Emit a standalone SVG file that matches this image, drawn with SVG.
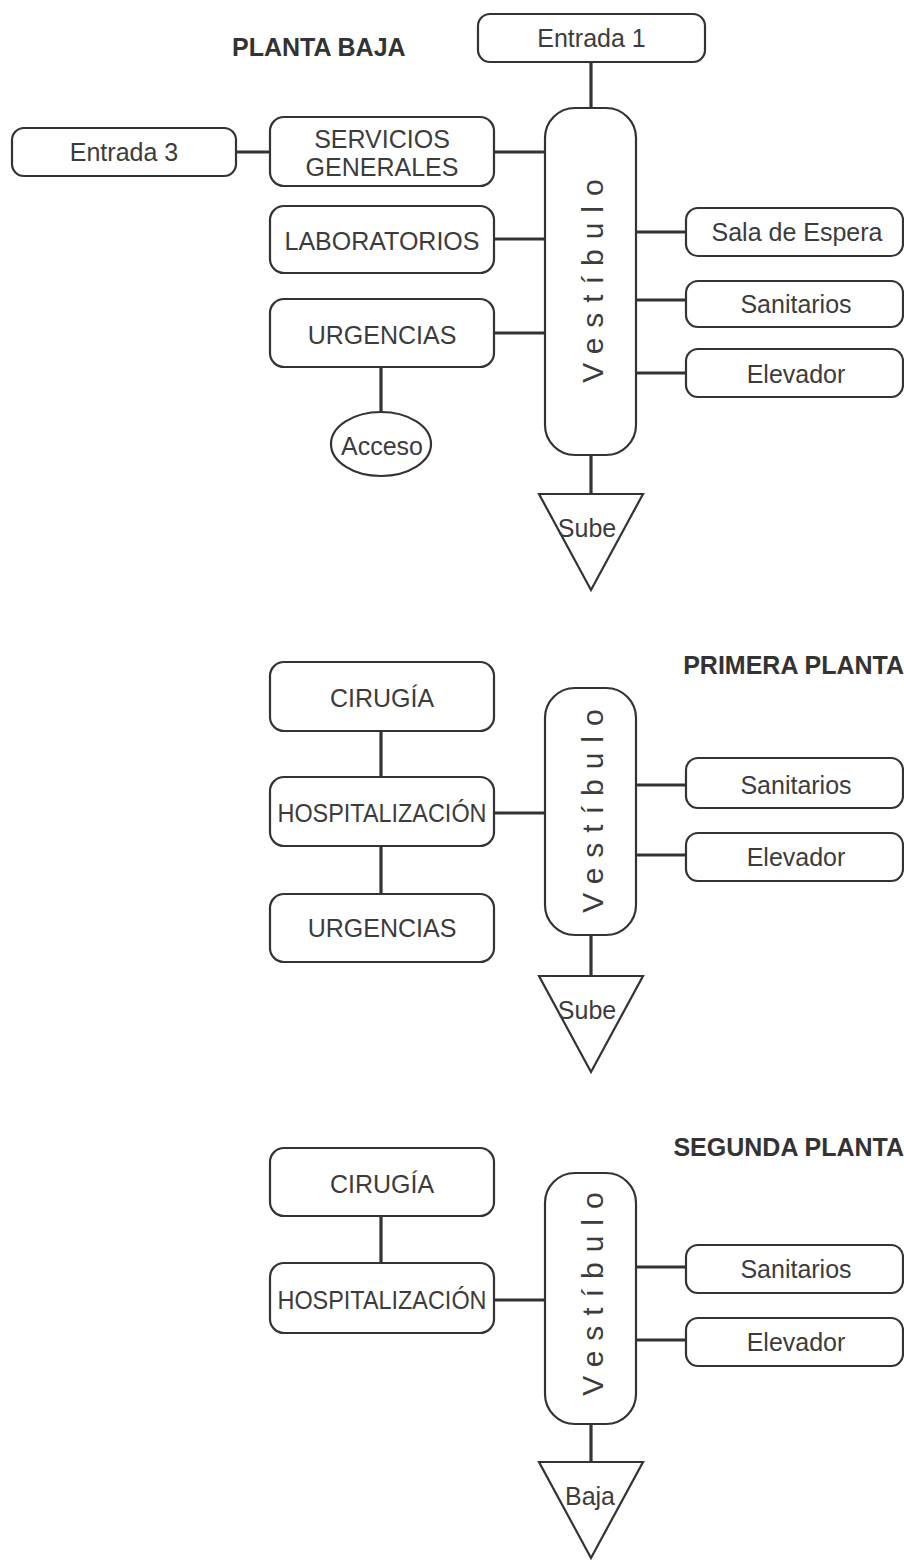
<svg xmlns="http://www.w3.org/2000/svg" width="904" height="1562" viewBox="0 0 904 1562">
<style>
.box{fill:#fff;stroke:#333;stroke-width:2.2}
.lbl{font-family:"Liberation Sans",Arial,sans-serif;font-size:25px;fill:#3c3c3c;text-anchor:middle;dominant-baseline:central}
.ttl{font-family:"Liberation Sans",Arial,sans-serif;font-size:25px;font-weight:bold;fill:#333}
.vest{font-family:"Liberation Sans",Arial,sans-serif;font-size:30px;fill:#3c3c3c;text-anchor:middle;dominant-baseline:central;letter-spacing:10px}
.con{stroke:#333;stroke-width:3.2;fill:none}
</style>
<rect width="904" height="1562" fill="#fff"/>
<g id="connectors">
<line class="con" x1="591" y1="62" x2="591" y2="108"/>
<line class="con" x1="236" y1="152" x2="270" y2="152"/>
<line class="con" x1="494" y1="152" x2="545" y2="152"/>
<line class="con" x1="494" y1="239" x2="545" y2="239"/>
<line class="con" x1="494" y1="333" x2="545" y2="333"/>
<line class="con" x1="381" y1="367" x2="381" y2="412"/>
<line class="con" x1="636" y1="232" x2="686" y2="232"/>
<line class="con" x1="636" y1="300" x2="686" y2="300"/>
<line class="con" x1="636" y1="373" x2="686" y2="373"/>
<line class="con" x1="591" y1="455" x2="591" y2="494"/>
<line class="con" x1="381" y1="731" x2="381" y2="777"/>
<line class="con" x1="381" y1="846" x2="381" y2="894"/>
<line class="con" x1="494" y1="813" x2="545" y2="813"/>
<line class="con" x1="636" y1="785" x2="686" y2="785"/>
<line class="con" x1="636" y1="855" x2="686" y2="855"/>
<line class="con" x1="591" y1="935" x2="591" y2="976"/>
<line class="con" x1="381" y1="1216" x2="381" y2="1263"/>
<line class="con" x1="494" y1="1300" x2="545" y2="1300"/>
<line class="con" x1="636" y1="1267" x2="686" y2="1267"/>
<line class="con" x1="636" y1="1340" x2="686" y2="1340"/>
<line class="con" x1="591" y1="1424" x2="591" y2="1462"/>
</g>
<text class="ttl" x="232" y="56">PLANTA BAJA</text>
<text class="ttl" x="904" y="674" text-anchor="end">PRIMERA PLANTA</text>
<text class="ttl" x="904" y="1156" text-anchor="end">SEGUNDA PLANTA</text>
<g id="entrada1"><rect class="box" x="478" y="14" width="227" height="48" rx="12"/><text class="lbl" x="591.5" y="38">Entrada 1</text></g>
<g id="entrada3"><rect class="box" x="12" y="128" width="224" height="48" rx="12"/><text class="lbl" x="124" y="152">Entrada 3</text></g>
<g id="servicios"><rect class="box" x="270" y="117" width="224" height="69" rx="14"/><text class="lbl" x="382" y="139">SERVICIOS</text><text class="lbl" x="382" y="167">GENERALES</text></g>
<g id="laboratorios"><rect class="box" x="270" y="206" width="224" height="67" rx="14"/><text class="lbl" x="382" y="241">LABORATORIOS</text></g>
<g id="urgencias1"><rect class="box" x="270" y="299" width="224" height="68" rx="14"/><text class="lbl" x="382" y="335">URGENCIAS</text></g>
<g id="acceso"><ellipse class="box" cx="381" cy="444" rx="50" ry="32"/><text class="lbl" x="382" y="446">Acceso</text></g>
<g id="vestibulo1"><rect class="box" x="545" y="108" width="91" height="347" rx="30"/><text class="vest" transform="translate(592 276) rotate(-90)">Vestíbulo</text></g>
<g id="sala"><rect class="box" x="686" y="208" width="217" height="48" rx="12"/><text class="lbl" x="797" y="232">Sala de Espera</text></g>
<g id="sanitarios1"><rect class="box" x="686" y="281" width="217" height="46" rx="12"/><text class="lbl" x="796" y="304">Sanitarios</text></g>
<g id="elevador1"><rect class="box" x="686" y="349" width="217" height="48" rx="12"/><text class="lbl" x="796" y="374">Elevador</text></g>
<g id="sube1"><polygon class="box" points="539,494 643,494 591,590"/><text class="lbl" x="587" y="528">Sube</text></g>
<g id="cirugia2"><rect class="box" x="270" y="662" width="224" height="69" rx="14"/><text class="lbl" x="382" y="698">CIRUGÍA</text></g>
<g id="hosp2"><rect class="box" x="270" y="777" width="224" height="69" rx="14"/><text class="lbl" x="382" y="813" textLength="209" lengthAdjust="spacingAndGlyphs">HOSPITALIZACIÓN</text></g>
<g id="urgencias2"><rect class="box" x="270" y="894" width="224" height="68" rx="14"/><text class="lbl" x="382" y="928">URGENCIAS</text></g>
<g id="vestibulo2"><rect class="box" x="545" y="688" width="91" height="247" rx="30"/><text class="vest" transform="translate(592 806) rotate(-90)">Vestíbulo</text></g>
<g id="sanitarios2"><rect class="box" x="686" y="758" width="217" height="50" rx="12"/><text class="lbl" x="796" y="785">Sanitarios</text></g>
<g id="elevador2"><rect class="box" x="686" y="833" width="217" height="48" rx="12"/><text class="lbl" x="796" y="857">Elevador</text></g>
<g id="sube2"><polygon class="box" points="539,976 643,976 591,1072"/><text class="lbl" x="587" y="1010">Sube</text></g>
<g id="cirugia3"><rect class="box" x="270" y="1148" width="224" height="68" rx="14"/><text class="lbl" x="382" y="1184">CIRUGÍA</text></g>
<g id="hosp3"><rect class="box" x="270" y="1263" width="224" height="70" rx="14"/><text class="lbl" x="382" y="1300" textLength="209" lengthAdjust="spacingAndGlyphs">HOSPITALIZACIÓN</text></g>
<g id="vestibulo3"><rect class="box" x="545" y="1173" width="91" height="251" rx="30"/><text class="vest" transform="translate(592 1289) rotate(-90)">Vestíbulo</text></g>
<g id="sanitarios3"><rect class="box" x="686" y="1245" width="217" height="48" rx="12"/><text class="lbl" x="796" y="1269">Sanitarios</text></g>
<g id="elevador3"><rect class="box" x="686" y="1318" width="217" height="48" rx="12"/><text class="lbl" x="796" y="1342">Elevador</text></g>
<g id="baja"><polygon class="box" points="539,1462 643,1462 591,1558"/><text class="lbl" x="590" y="1496">Baja</text></g>
</svg>
